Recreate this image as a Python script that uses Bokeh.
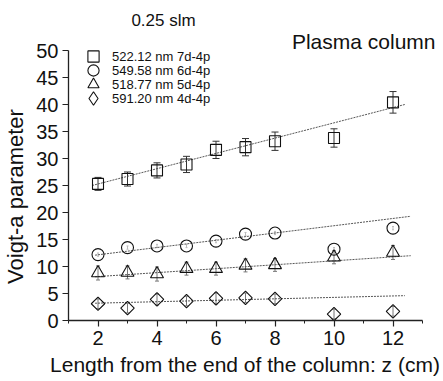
import math
from bokeh.plotting import figure
from bokeh.models import (ColumnDataSource, Whisker, TeeHead, Label, Legend,
                          LegendItem, FixedTicker, Range1d)
from bokeh.embed import file_html
from bokeh.resources import INLINE

# ---------------- data ----------------
z = [2, 3, 4, 5, 6, 7, 8, 10, 12]
a_522 = [25.3, 26.2, 27.8, 28.9, 31.6, 32.1, 33.2, 33.8, 40.4]
e_522 = [1.2, 1.3, 1.4, 1.5, 1.6, 1.6, 1.7, 1.7, 2.0]
a_549 = [12.2, 13.5, 13.8, 13.8, 14.7, 16.0, 16.2, 13.2, 17.1]
e_549 = [0.3, 0.3, 0.3, 0.3, 0.3, 0.3, 0.3, 0.3, 0.3]
a_518 = [8.8, 8.9, 8.6, 9.6, 9.6, 10.2, 10.3, 11.7, 12.6]
e_518 = [1.3, 1.2, 1.3, 1.2, 1.2, 1.2, 1.2, 1.2, 1.3]
a_591 = [3.1, 2.3, 3.9, 3.6, 4.1, 4.2, 4.0, 1.2, 1.7]
e_591 = [0.9, 0.9, 1.0, 0.9, 1.0, 0.9, 0.9, 0.9, 0.9]

fit_z_522 = [1.8, 12.4]
fit_522 = [25.0, 40.0]
fit_z_549 = [1.9, 12.6]
fit_549 = [12.1, 19.3]
fit_z_518 = [1.9, 12.6]
fit_518 = [8.1, 12.0]
fit_z_591 = [1.9, 12.4]
fit_591 = [3.2, 4.6]

labels = ["522.12 nm 7d-4p", "549.58 nm 6d-4p", "518.77 nm 5d-4p", "591.20 nm 4d-4p"]
x_ticks = [2, 4, 6, 8, 10, 12]
x_minor = [1, 3, 5, 7, 9, 11, 13]
y_ticks = [0, 5, 10, 15, 20, 25, 30, 35, 40, 45, 50]

FONT = "Liberation Sans"

# frame placement (pixels)
FL, FR, FT, FB = 68, 422, 50, 320
W, H = 443, 381

p = figure(width=W, height=H, x_range=Range1d(1, 13), y_range=Range1d(0, 50),
           output_backend="svg", toolbar_location=None, title=None,
           min_border_left=FL, min_border_right=W - FR,
           min_border_top=FT, min_border_bottom=H - FB)
p.outline_line_color = None
p.grid.visible = False
p.background_fill_color = "white"

for ax in (p.xaxis[0], p.yaxis[0]):
    ax.axis_line_color = "#222222"
    ax.axis_line_width = 1.3
    ax.major_tick_line_color = "#222222"
    ax.major_tick_line_width = 1.2
    ax.major_tick_out = 6
    ax.major_tick_in = 0
    ax.major_label_text_font = FONT
    ax.major_label_text_font_size = "20px"
    ax.major_label_text_color = "#111111"
    ax.major_label_standoff = 4

p.xaxis[0].ticker = FixedTicker(ticks=x_ticks, minor_ticks=x_minor)
p.xaxis[0].minor_tick_out = 3
p.xaxis[0].minor_tick_in = 0
p.xaxis[0].minor_tick_line_color = "#222222"
p.yaxis[0].ticker = FixedTicker(ticks=y_ticks)
p.yaxis[0].minor_tick_line_color = None

# ---------------- series ----------------
series = [
    (a_522, e_522, fit_z_522, fit_522, "square", 11, 0, 7, "#333333"),
    (a_549, e_549, fit_z_549, fit_549, "circle", 12, 0, 2, "#bbbbbb"),
    (a_518, e_518, fit_z_518, fit_518, "triangle", 13, 0, 4, "#777777"),
    (a_591, e_591, fit_z_591, fit_591, "square", 9.5, math.pi / 4, 4, "#777777"),
]

renderers = []
sources = []
for vals, errs, fz, fv, marker, size, ang, head, ecol in series:
    src = ColumnDataSource(dict(
        z=z, a=vals,
        lo=[v - e for v, e in zip(vals, errs)],
        hi=[v + e for v, e in zip(vals, errs)],
    ))
    sources.append(src)
    p.line(fz, fv, line_color="#444444", line_width=0.9, line_dash="2 1")
    w = Whisker(source=src, base="z", lower="lo", upper="hi",
                line_color=ecol, line_width=1,
                upper_head=TeeHead(size=head, line_color=ecol, line_width=1),
                lower_head=TeeHead(size=head, line_color=ecol, line_width=1))
    p.add_layout(w)
    r = p.scatter("z", "a", source=src, marker=marker, size=size, angle=ang,
                  fill_color=None, line_color="#111111", line_width=1.1)
    renderers.append(r)

# legend key for the diamond series (legend keys ignore marker rotation):
# a hidden renderer of the same data, used only to draw the key
diamond_key = p.scatter("z", "a", source=sources[3], marker="diamond",
                        fill_color=None, line_color="#111111", line_width=1.1,
                        visible=False)
legend_renderers = [renderers[0], renderers[1], renderers[2], diamond_key]
legend_boxes = [28, 28, 28, 34]

# legend: one single-item legend per row
row_centers = [56, 70, 84, 98]
mark_x = 93
text_x = 112
for lbl, r, c, g in zip(labels, legend_renderers, row_centers, legend_boxes):
    lg = Legend(items=[LegendItem(label=lbl, renderers=[r])],
                location=(mark_x - g / 2 - FL, FB - (c + g / 2)),
                glyph_width=g, glyph_height=g,
                label_height=14, spacing=0, label_standoff=int(text_x - (mark_x + g / 2)),
                padding=0, margin=0, click_policy="none",
                inactive_fill_alpha=0,
                border_line_color=None, background_fill_alpha=0,
                label_text_font=FONT, label_text_font_size="13px",
                label_text_color="#111111")
    p.add_layout(lg)

# ---------------- text ----------------
def dx(px):
    return 1 + (px - FL) / ((FR - FL) / 12)

def dy(py):
    return (FB - py) / ((FB - FT) / 50)

def lab(text, px, py, size, place, align="left", angle=0):
    p.add_layout(Label(x=dx(px), y=dy(py), text=text, text_font=FONT,
                       text_font_size=size, text_align=align,
                       text_baseline="middle",
                       angle=angle, text_color="#111111"), place)

lab("0.25 slm", 163, 20, "17px", "above", align="center")
lab("Plasma column", 435, 41, "21px", "above", align="right")
lab("Length from the end of the column: z (cm)", 244.5, 364, "21px", "below", align="center")
lab("Voigt-a parameter", 15, 196, "22px", "left", align="center", angle=math.pi / 2)

open("out.html", "w").write(file_html(p, INLINE))
